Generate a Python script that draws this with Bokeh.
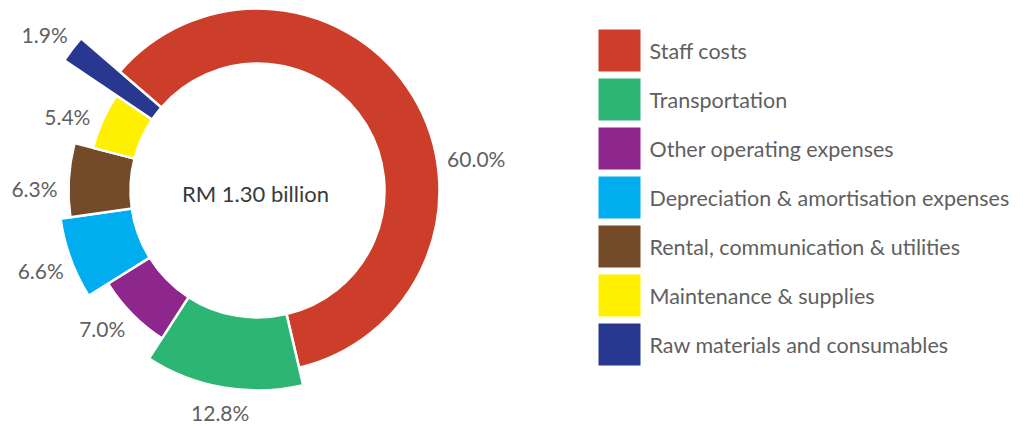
import math
from bokeh.plotting import figure
from bokeh.models import ColumnDataSource, Range1d
from bokeh.embed import file_html
from bokeh.resources import INLINE
from bokeh.core.properties import value

# ---------------- data ----------------
categories = ["Staff costs", "Transportation", "Other operating expenses",
              "Depreciation & amortisation expenses", "Rental, communication & utilities",
              "Maintenance & supplies", "Raw materials and consumables"]
shares = [60.0, 12.8, 7.0, 6.6, 6.3, 5.4, 1.9]
share_labels = ["60.0%", "12.8%", "7.0%", "6.6%", "6.3%", "5.4%", "1.9%"]
colors = ["#CD3E2A", "#2CB573", "#8E278D", "#00AEEF", "#744B28", "#FFF000", "#283891"]
center_title = "RM 1.30 billion"

# ---------------- layout (pixels) ----------------
W, H = 1033, 428
CX, CY = 257, 238
START_DEG = 139.2
R_IN = 127
R_OUT = [182, 200, 176, 199, 189, 170, 233]
LABEL_NUDGE_DEG = [-23, 0.3, -2.8, 0.2, 2.6, 3.0, 1.1]
LABEL_PAD = [39, 25, 32, 32, 34, 34, 31]
LEG_X, LEG_Y0, LEG_STEP, LEG_SIZE = 619, 378, 49, 42

total = sum(shares)
starts, ends, mids = [], [], []
a = math.radians(START_DEG)
for s in shares:
    span = s / total * 2 * math.pi
    ends.append(a)
    starts.append(a - span)
    mids.append(a - span / 2)
    a -= span

src = ColumnDataSource(dict(start=starts, end=ends, r_out=R_OUT, color=colors))

lx, ly = [], []
for m, nud, pad, ro in zip(mids, LABEL_NUDGE_DEG, LABEL_PAD, R_OUT):
    ang = m + math.radians(nud)
    lx.append(CX + (ro + pad) * math.cos(ang))
    ly.append(CY + (ro + pad) * math.sin(ang))
lab_src = ColumnDataSource(dict(x=lx, y=ly, text=share_labels))

p = figure(width=W, height=H, output_backend="svg", toolbar_location=None,
           x_range=Range1d(0, W), y_range=Range1d(0, H), min_border=0)
p.axis.visible = False
p.grid.visible = False
p.outline_line_color = None
p.background_fill_color = "white"

p.annular_wedge(x=CX, y=CY, inner_radius=R_IN, outer_radius="r_out",
                start_angle="start", end_angle="end", fill_color="color",
                line_color="white", line_width=2.5, source=src)

p.text(x="x", y="y", text="text", source=lab_src, text_font=value("Lato"),
       text_font_size="21px", text_color="#5f5f5f", text_align="center",
       text_baseline="middle")

p.text(x=[CX - 2], y=[CY - 3], text=[center_title], text_font=value("Lato"),
       text_font_size="22px", text_color="#3a3a3a", text_align="center",
       text_baseline="middle")

# legend
n = len(categories)
leg_y = [LEG_Y0 - i * LEG_STEP for i in range(n)]
p.rect(x=[LEG_X] * n, y=leg_y, width=LEG_SIZE, height=LEG_SIZE,
       fill_color=colors, line_color=None)
p.text(x=[LEG_X + 30] * n, y=leg_y, text=categories, text_font=value("Lato"),
       text_font_size="21.5px", text_color="#5f5f5f", text_align="left",
       text_baseline="middle")

open("out.html", "w").write(file_html(p, INLINE))
